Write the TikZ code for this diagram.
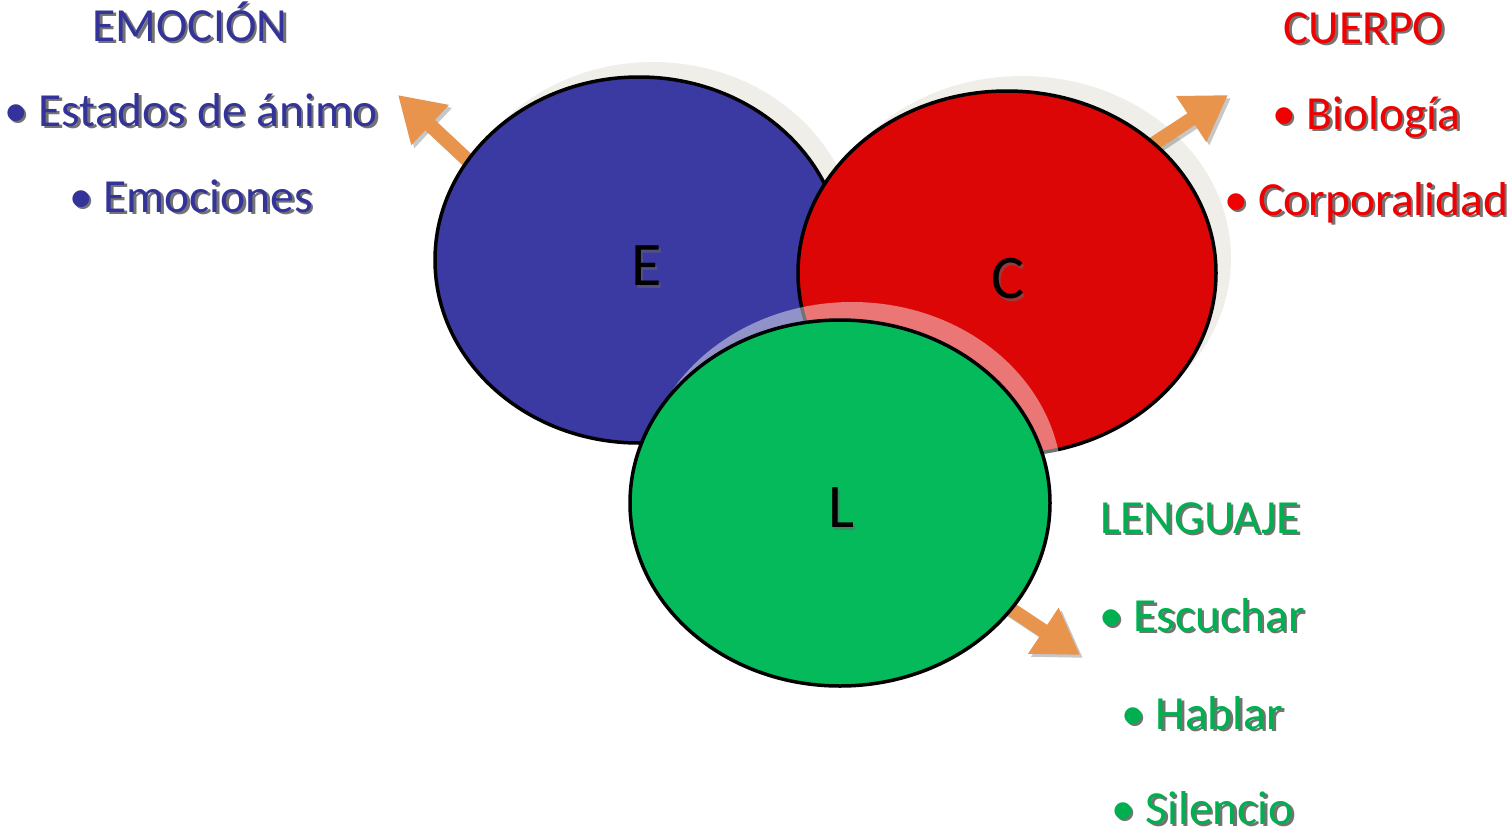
\documentclass[tikz,border=0pt]{standalone}
\usepackage{fontspec}
\setmainfont{Carlito}
\usetikzlibrary{calc,arrows.meta,shapes.geometric}
\definecolor{eblue}{HTML}{3A3AA2}
\definecolor{cred}{HTML}{DC0606}
\definecolor{lgreen}{HTML}{05BA5A}
\definecolor{tblue}{HTML}{333399}
\definecolor{tred}{HTML}{F00000}
\definecolor{tgreen}{HTML}{00B050}
\definecolor{glow}{HTML}{EFEEE9}
\definecolor{orng}{HTML}{E8944C}
\tikzset{
  ell/.style={ellipse, draw=black, line width=3.5pt, inner sep=0pt},
  glowell/.style={ellipse, inner sep=0pt, draw=none},
  txt/.style={font=\fontsize{47.5}{54}\selectfont, inner sep=0pt},
  big/.style={font=\fontsize{62}{70}\selectfont, inner sep=0pt, text=black},
  oarrow/.style={line width=14pt, color=orng, -{Triangle[width=52pt,length=44pt]}},
  sarrow/.style={line width=14pt, color=black, opacity=0.22, -{Triangle[width=52pt,length=44pt]}},
}
\newcommand\shtext[5]{% name, anchor, position, color, text
  \node[txt, anchor=#2, text=black, opacity=0.55] at ($(#3)+(2.5,2.5)$) {#5};
  \node[txt, anchor=#2, text=#4] (#1) at (#3) {#5};}
\begin{document}
\begin{tikzpicture}[x=1pt,y=-1pt]
\useasboundingbox (0,0) rectangle (1510,836);
% glows
\node[glowell, fill=glow, minimum width=408pt, minimum height=366pt] (Eg) at (653,245) {};
\node[glowell, fill=glow, minimum width=418pt, minimum height=364pt] (Cg) at (1022,258) {};
% arrows (behind ellipses)
\coordinate (ea) at (476,168); \coordinate (et) at (398,95);
\coordinate (ca) at (1138,154); \coordinate (ct) at (1228,95);
\coordinate (la) at (994,598); \coordinate (lt) at (1080,655);
\draw[sarrow] ($(ea)+(3,3)$) -- ($(et)+(3,3)$);
\draw[sarrow] ($(ca)+(3,3)$) -- ($(ct)+(3,3)$);
\draw[sarrow] ($(la)+(3,3)$) -- ($(lt)+(3,3)$);
\draw[oarrow] (ea) -- (et);
\draw[oarrow] (ca) -- (ct);
\draw[oarrow] (la) -- (lt);
% ellipses
\node[ell, fill=eblue, minimum width=408pt, minimum height=366pt] (E) at (639,260) {};
\node[ell, fill=cred, minimum width=418pt, minimum height=364pt] (C) at (1007,273) {};
\node[glowell, fill=white, fill opacity=0.45, minimum width=420pt, minimum height=366pt] (Lg) at (852,485) {};
\node[ell, fill=lgreen, minimum width=420pt, minimum height=366pt] (L) at (840,503) {};
% letters
\node[big, text=black!60, opacity=0.5] at (649,269) {E};
\node[big] (Et) at (647,266) {E};
\node[big, text=black!60, opacity=0.5] at (1010,282) {C};
\node[big] (Ct) at (1008,279) {C};
\node[big, text=black!60, opacity=0.5] at (844,511) {L};
\node[big] (Lt) at (842,508) {L};
% texts
\shtext{emo}{base}{190,41}{tblue}{EMOCIÓN}
\shtext{est}{base west}{4,126}{tblue}{• Estados de ánimo}
\shtext{emc}{base west}{69,212}{tblue}{• Emociones}
\shtext{cue}{base}{1364,43}{tred}{CUERPO}
\shtext{bio}{base west}{1272,129}{tred}{• Biología}
\shtext{cor}{base west}{1224,215}{tred}{• Corporalidad}
\shtext{len}{base west}{1100,533}{tgreen}{LENGUAJE}
\shtext{esc}{base west}{1099,631}{tgreen}{• Escuchar}
\shtext{hab}{base west}{1121,729}{tgreen}{• Hablar}
\shtext{sil}{base west}{1111,824}{tgreen}{• Silencio}
\end{tikzpicture}
\end{document}
